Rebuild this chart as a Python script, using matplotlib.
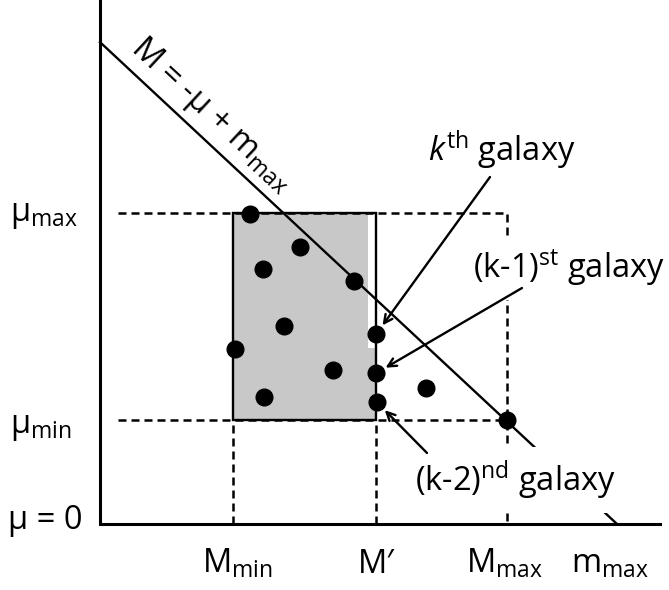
import numpy as np
import matplotlib.pyplot as plt
import matplotlib.patches as patches

plt.rcParams['font.family'] = ['Open Sans', 'DejaVu Sans']
plt.rcParams['mathtext.fontset'] = 'custom'
plt.rcParams['mathtext.rm'] = 'Open Sans'
plt.rcParams['mathtext.it'] = 'Open Sans:italic'

# sample limits in the (M, mu) plane
M_min, M_prime, M_max = 13.3, 27.6, 40.7
m_max = 51.7
mu_min, mu_max = 11.16, 33.37

# galaxies: absolute magnitude and distance modulus
gal_M = [15.0, 20.0, 16.3, 25.4, 18.4, 27.6, 13.5, 23.3, 27.6, 32.6, 16.4, 27.7, 40.7]
gal_mu = [33.26, 29.75, 27.33, 26.07, 21.28, 20.35, 18.78, 16.49, 16.17,
          14.56, 13.59, 13.06, 11.16]

# which galaxies get a callout
call_idx = [5, 8, 11]
call_txt = [r'$\mathit{k}^{\mathrm{th}}$ galaxy',
            r'(k-1)$^{\mathrm{st}}$ galaxy',
            r'(k-2)$^{\mathrm{nd}}$ galaxy']

FS = 23.5
fig = plt.figure(figsize=(6.69, 5.90), dpi=100)
ax = fig.add_axes([0, 0, 1, 1])
ax.set_xlim(-10.0, 56.9)
ax.set_ylim(-7.08, 56.22)
ax.axis('off')

# axes
ax.plot([0, 0, 56.0], [56.3, 0, 0], color='black', lw=2.2,
        solid_joinstyle='miter', zorder=3)

# magnitude limit line M = -mu + m_max
ax.plot([0, m_max], [m_max, 0], color='black', lw=1.7, zorder=3)

# shaded box (with the thin unshaded strip along its right edge)
dx = 0.8
step = 18.9
pts = [(M_min, mu_min), (M_prime, mu_min), (M_prime, step), (M_prime - dx, step),
       (M_prime - dx, mu_max), (M_min, mu_max)]
ax.add_patch(patches.Polygon(pts, closed=True, fc='#c8c8c8', ec='none', zorder=1))
ax.add_patch(patches.Rectangle((M_min, mu_min), M_prime - M_min, mu_max - mu_min,
                               fill=False, ec='black', lw=1.7, zorder=3))

# dashed guides
ds = dict(color='black', lw=1.8, ls=(0, (3.2, 2.0)), zorder=2)
ax.plot([1.8, M_max, M_max], [mu_max, mu_max, 0], **ds)
ax.plot([1.8, M_max], [mu_min, mu_min], **ds)
ax.plot([M_min, M_min], [0, mu_min], **ds)
ax.plot([M_prime, M_prime], [0, mu_min], **ds)

# galaxies
ax.plot(gal_M, gal_mu, 'o', color='black', ms=12, zorder=4)

# left labels
ax.text(-9.0, mu_max - 0.85, r'$\mathregular{μ_{max}}$', fontsize=FS, ha='left', va='baseline')
ax.text(-9.0, mu_min - 1.4, r'$\mathregular{μ_{min}}$', fontsize=FS, ha='left', va='baseline')
ax.text(-9.2, -0.55, 'μ = 0', fontsize=FS, ha='left', va='baseline')

# bottom labels
yb = -5.26
ax.text(M_min + 0.4, yb, r'$\mathregular{M_{min}}$', fontsize=FS, ha='center', va='baseline')
ax.text(M_prime, yb, 'M\u2032', fontsize=FS, ha='center', va='baseline')
ax.text(M_max - 0.2, yb, r'$\mathregular{M_{max}}$', fontsize=FS, ha='center', va='baseline')
ax.text(m_max - 0.7, yb, r'$\mathregular{m_{max}}$', fontsize=FS, ha='center', va='baseline')

# label along the limit line
mx = 9.6
ax.text(mx + 0.35, m_max - mx + 0.35, r'M = -μ + $\mathregular{m_{max}}$', fontsize=FS,
        rotation=-45, transform_rotates_text=True, rotation_mode='anchor',
        ha='center', va='bottom', zorder=5)

# callouts
txt_pos = [(40.15, 38.84), (46.85, 26.4), (41.55, 3.54)]
tails = [(39.0, 37.23), (42.2, 25.32), (32.7, 7.62)]
for i, s, (tx, ty), tail in zip(call_idx, call_txt, txt_pos, tails):
    ax.text(tx, ty, s, fontsize=FS, ha='center', va='baseline', zorder=5,
            bbox=dict(boxstyle='square,pad=0.35', fc='white', ec='none'))
    ax.annotate('', xy=(gal_M[i], gal_mu[i]), xytext=tail, zorder=6,
                arrowprops=dict(arrowstyle='->,head_length=0.6,head_width=0.3',
                                color='black', lw=1.7, shrinkA=0, shrinkB=8))

fig.savefig('out.png', dpi=100)
